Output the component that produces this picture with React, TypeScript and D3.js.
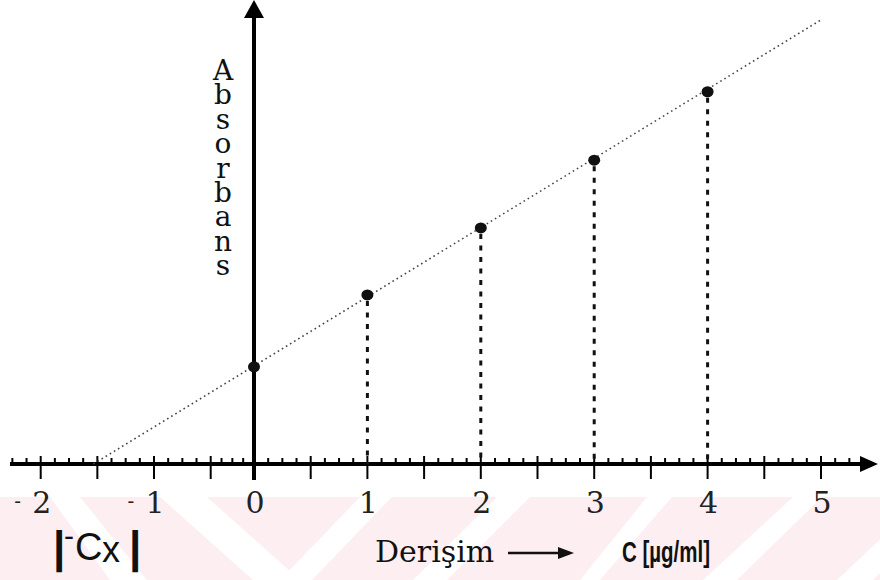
import React from "react";
import * as d3 from "d3";

// ---- data ----
const concentrations = [0, 1, 2, 3, 4];
const absorbances = [0.142, 0.247, 0.345, 0.444, 0.544];
const fitX = [-1.535, 5];
const fitY = [0, 0.649];
const tickLabels = [-2, -1, 0, 1, 2, 3, 4, 5];
const yLabel = "Absorbans";
const xLabelText = "Derişim";
const unitText = "C [µg/ml]";

const W = 880;
const H = 580;

export default function App() {
  // hand-drawn axis: piecewise linear scale
  const x = d3
    .scaleLinear()
    .domain([-2, -1, -0.5, 0, 5])
    .range([40.7, 154, 210.7, 254, 821]);
  const y = d3.scaleLinear().domain([0, 0.7]).range([464, -15]);
  const axisY = y(0);

  const majors = d3.range(-2, 5.01, 0.5);
  const minors = d3.range(-2.25, 5.26, 0.125).filter((v) => Math.abs(v * 2 - Math.round(v * 2)) > 1e-6);

  const fitLine = d3
    .line<number>()
    .x((_, i) => x(fitX[i]))
    .y((d) => y(d))(fitY);

  // watermark stripes (decorative, pixel geometry)
  const wmTop = 497;
  const wmBot = 580;
  const back = [
    [50, 80, 110, 147],
    [160, 207, 253, 300],
  ];
  const fwd = [
    [360, 392, 280, 312],
    [497, 530, 413, 447],
    [647, 672, 580, 600],
    [793, 822, 703, 737],
    [925, 960, 837, 873],
  ];

  const serif = "'DejaVu Serif', serif";

  return (
    <svg width={W} height={H} style={{ position: "absolute", left: 0, top: 0, background: "#fff" }}>
      {/* watermark */}
      <rect x={0} y={wmTop} width={W} height={wmBot - wmTop} fill="#fdeef1" />
      {back.concat(fwd).map((s, i) => (
        <polygon
          key={"wm" + i}
          points={`${s[0]},${wmTop} ${s[1]},${wmTop} ${s[3]},${wmBot} ${s[2]},${wmBot}`}
          fill="#fff"
        />
      ))}

      {/* x axis */}
      <line x1={10} x2={862} y1={axisY} y2={axisY} stroke="#000" strokeWidth={4} />
      <polygon points={`${878},${axisY} ${860},${axisY - 8} ${860},${axisY + 8}`} fill="#000" />
      {majors.map((v) => (
        <line key={"M" + v} x1={x(v)} x2={x(v)} y1={axisY - 8} y2={axisY + 15} stroke="#000" strokeWidth={2} />
      ))}
      {minors.map((v) => (
        <line key={"m" + v} x1={x(v)} x2={x(v)} y1={axisY - 6} y2={axisY} stroke="#000" strokeWidth={2} />
      ))}

      {/* y axis */}
      <line x1={x(0)} x2={x(0)} y1={480} y2={16} stroke="#000" strokeWidth={4} />
      <polygon points={`${x(0)},0 ${x(0) - 10},18 ${x(0) + 10},18`} fill="#000" />

      {/* fit line */}
      <path d={fitLine || ""} fill="none" stroke="#444" strokeWidth={1.6} strokeDasharray="1.6 3.2" />

      {/* dashed verticals */}
      {concentrations.map((c, i) =>
        c === 0 ? null : (
          <line
            key={"v" + c}
            x1={x(c)}
            x2={x(c)}
            y1={y(absorbances[i]) + 6}
            y2={axisY}
            stroke="#111"
            strokeWidth={3}
            strokeDasharray="5 6.5"
          />
        )
      )}

      {/* points */}
      {concentrations.map((c, i) => (
        <ellipse key={"p" + c} cx={x(c)} cy={y(absorbances[i])} rx={6} ry={5.5} fill="#111" />
      ))}

      {/* tick labels */}
      {tickLabels.map((v) => (
        <text key={"t" + v} y={513} fontFamily={serif} fill="#222" textAnchor="middle">
          {v < 0 ? (
            <tspan x={x(v) - 23} dy={-5} fontSize={20}>
              -
            </tspan>
          ) : null}
          <tspan x={x(v) + 1} y={513} fontSize={30}>
            {Math.abs(v)}
          </tspan>
        </text>
      ))}

      {/* y label stacked vertically, upright letters */}
      <text
        x={223}
        y={54}
        fontFamily={serif}
        fontSize={28}
        fill="#111"
        textLength={228}
        lengthAdjust="spacing"
        style={{ writingMode: "vertical-rl", textOrientation: "upright" } as React.CSSProperties}
      >
        {yLabel}
      </text>

      {/* -Cx label */}
      <text fontFamily="'Liberation Sans', Arial, sans-serif" fill="#111">
        <tspan x={53} y={562} fontSize={44} fontWeight="bold">|</tspan>
        <tspan x={64} y={546} fontSize={30}>-</tspan>
        <tspan x={75} y={560} fontSize={38}>C</tspan>
        <tspan x={102} y={562} fontSize={36}>x</tspan>
        <tspan x={129} y={562} fontSize={44} fontWeight="bold">|</tspan>
      </text>

      {/* x label */}
      <text x={375} y={562} fontFamily={serif} fontSize={30} fill="#111">
        {xLabelText}
      </text>
      <line x1={508} x2={562} y1={553} y2={553} stroke="#111" strokeWidth={2.5} />
      <polygon points={`574,553 558,547 558,559`} fill="#111" />
      <text
        x={622}
        y={562}
        fontFamily="'Liberation Sans', Arial, sans-serif"
        fontWeight="bold"
        fontSize={29}
        textLength={88}
        lengthAdjust="spacingAndGlyphs"
        fill="#111"
      >
        {unitText}
      </text>
    </svg>
  );
}
